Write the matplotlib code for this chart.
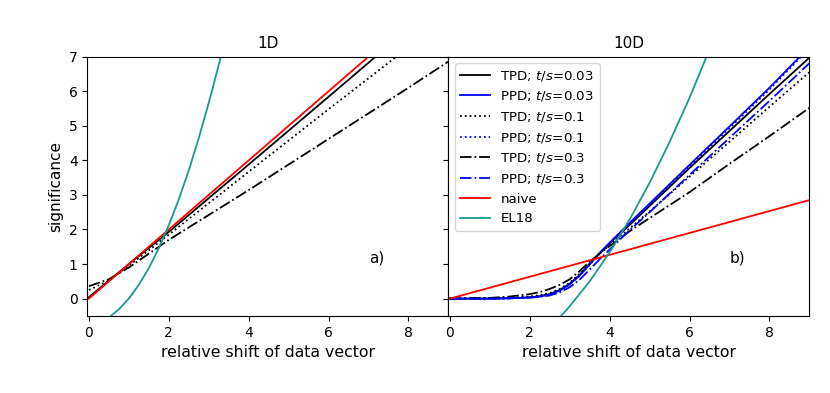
import numpy as np
import matplotlib
matplotlib.use("Agg")
import matplotlib.pyplot as plt

# ---- 1D panel ----
x1_naive = [0.0, 7.3]
y1_naive = [0.0, 7.3]

x1_tpd003 = [0.0, 1.0, 2.0, 4.0, 6.0, 7.3]
y1_tpd003 = [0.04, 1.0, 1.93, 3.88, 5.84, 7.12]

x1_tpd01 = [0.0, 0.5, 1.0, 2.0, 4.0, 6.0, 7.8]
y1_tpd01 = [0.25, 0.52, 0.95, 1.85, 3.67, 5.48, 7.09]

x1_tpd03 = [0.0, 0.5, 1.0, 1.5, 2.0, 3.0, 4.0, 6.0, 8.0, 9.0]
y1_tpd03 = [0.36, 0.56, 0.9, 1.3, 1.7, 2.42, 3.14, 4.62, 6.1, 6.86]

x1_el18 = [0.55, 0.75, 1.0, 1.25, 1.5, 1.75, 2.0, 2.25, 2.5, 2.75, 3.0, 3.25, 3.4]
y1_el18 = [-0.50, -0.31, 0.0, 0.40, 0.88, 1.46, 2.12, 2.87, 3.71, 4.64, 5.66, 6.76, 7.47]

# ---- 10D panel ----
x10 = [0.0, 1.0, 1.5, 2.0, 2.25, 2.5, 2.75, 3.0, 3.25, 3.5, 3.75, 4.0, 4.5, 5.0, 6.0, 7.0, 8.0, 9.0]
y10_tpd003 = [0.0, 0.0, 0.01, 0.04, 0.07, 0.13, 0.25, 0.43, 0.69, 1.0, 1.32, 1.6, 2.13, 2.68, 3.78, 4.85, 5.92, 6.97]
y10_ppd003 = [0.0, 0.0, 0.01, 0.03, 0.06, 0.12, 0.23, 0.41, 0.67, 0.99, 1.32, 1.62, 2.19, 2.75, 3.87, 4.98, 6.10, 7.28]
y10_tpd01 = [0.0, 0.01, 0.02, 0.06, 0.10, 0.16, 0.28, 0.46, 0.72, 1.02, 1.31, 1.55, 2.03, 2.52, 3.53, 4.54, 5.55, 6.55]
y10_ppd01 = [0.0, 0.0, 0.01, 0.03, 0.06, 0.12, 0.23, 0.41, 0.66, 0.98, 1.31, 1.60, 2.17, 2.72, 3.83, 4.93, 6.05, 7.24]
y10_tpd03 = [0.0, 0.02, 0.06, 0.13, 0.19, 0.28, 0.40, 0.56, 0.80, 1.07, 1.30, 1.52, 1.95, 2.33, 3.08, 3.90, 4.70, 5.52]
y10_ppd03 = [0.0, 0.0, 0.01, 0.03, 0.05, 0.09, 0.18, 0.33, 0.55, 0.84, 1.14, 1.42, 1.98, 2.50, 3.58, 4.65, 5.72, 6.81]

x10_naive = [0.0, 9.0]
y10_naive = [0.0, 2.85]

x10_el18 = [2.7, 3.0, 3.5, 4.0, 4.5, 5.0, 5.5, 6.0, 6.5]
y10_el18 = [-0.61, -0.22, 0.50, 1.34, 2.29, 3.35, 4.53, 5.81, 7.21]

teal = '#1a9a8f'

fig, (ax1, ax2) = plt.subplots(1, 2, sharey=True, figsize=(8.3, 3.93), dpi=100)
fig.subplots_adjust(left=0.1052, right=0.9751, top=0.8557, bottom=0.1962, wspace=0)

# 1D
ax1.plot(x1_tpd003, y1_tpd003, color='k', ls='-', lw=1.3)
ax1.plot(x1_tpd01, y1_tpd01, color='k', ls=':', lw=1.3)
ax1.plot(x1_tpd03, y1_tpd03, color='k', ls='-.', lw=1.3)
ax1.plot(x1_naive, y1_naive, color='r', lw=1.3)
ax1.plot(x1_el18, y1_el18, color=teal, lw=1.3)
ax1.set_title('1D', fontsize=11)
ax1.set_ylabel('significance', fontsize=11)
ax1.set_xlabel('relative shift of data vector', fontsize=11.3)
ax1.text(7.2, 1.18, 'a)', ha='center', va='center', fontsize=11)

# 10D
ax2.plot(x10, y10_tpd003, color='k', ls='-', lw=1.3, label='TPD; $t/s$=0.03')
ax2.plot(x10, y10_ppd003, color='b', ls='-', lw=1.3, label='PPD; $t/s$=0.03')
ax2.plot(x10, y10_tpd01, color='k', ls=':', lw=1.3, label='TPD; $t/s$=0.1')
ax2.plot(x10, y10_ppd01, color='b', ls=':', lw=1.3, label='PPD; $t/s$=0.1')
ax2.plot(x10, y10_tpd03, color='k', ls='-.', lw=1.3, label='TPD; $t/s$=0.3')
ax2.plot(x10, y10_ppd03, color='b', ls='-.', lw=1.3, label='PPD; $t/s$=0.3')
ax2.plot(x10_naive, y10_naive, color='r', lw=1.3, label='naive')
ax2.plot(x10_el18, y10_el18, color=teal, lw=1.3, label='EL18')
ax2.set_title('10D', fontsize=11)
ax2.set_xlabel('relative shift of data vector', fontsize=11.3)
ax2.text(7.2, 1.18, 'b)', ha='center', va='center', fontsize=11)
ax2.legend(loc='upper left', fontsize=9.6, handlelength=2.2)

for ax in (ax1, ax2):
    ax.set_xlim(-0.04, 9)
    ax.set_xticks([0, 2, 4, 6, 8])
ax1.set_ylim(-0.5, 7)
ax1.set_yticks(range(0, 8))

fig.savefig('out.png', dpi=100)
